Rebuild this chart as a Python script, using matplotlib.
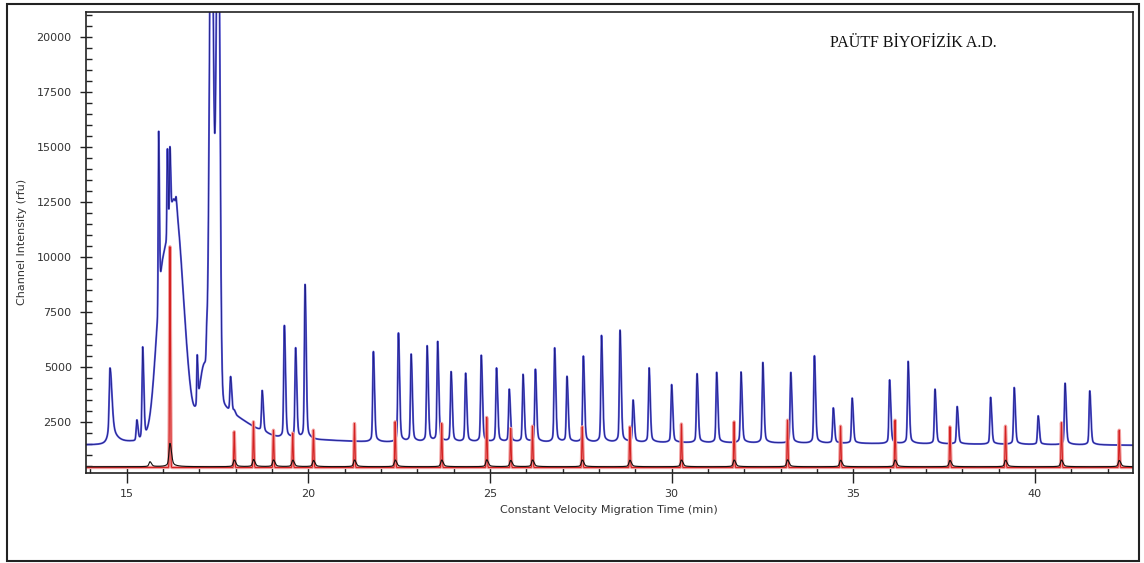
import numpy as np
import matplotlib
matplotlib.use("Agg")
import matplotlib.pyplot as plt
from matplotlib.ticker import MultipleLocator
from matplotlib.patches import Rectangle

# ---------------- data ----------------
# blue trace: slowly varying baseline (time, level)
blue_base_t = [13.88, 14.45, 15.10, 17.00, 20.50, 22.00, 30.00, 36.00, 42.70]
blue_base_y = [1450, 1450, 1550, 1600, 1650, 1560, 1540, 1500, 1430]

# blue broad components of the early hump (time, height above baseline, left/right width)
blue_broad_t = [15.92, 16.30, 17.15, 17.33, 17.52, 17.50]
blue_broad_h = [3800, 11000, 3500, 24500, 24500, 1400]
blue_broad_sl = [0.16, 0.25, 0.15, 0.050, 0.055, 0.10]
blue_broad_sr = [0.12, 0.26, 0.25, 0.055, 0.045, 0.80]

# blue sharp peaks: apex time and apex intensity (rfu)
blue_peak_t = [14.54, 15.28, 15.44, 15.88, 16.12, 16.19, 16.36, 16.94, 17.20, 17.86, 17.96,
               18.73, 19.34, 19.65, 19.91, 21.79, 22.48, 22.83, 23.27, 23.56, 23.93,
               24.33, 24.76, 25.18, 25.53, 25.91, 26.25, 26.78, 27.12, 27.57, 28.07,
               28.58, 28.94, 29.38, 30.00, 30.70, 31.24, 31.91, 32.51, 33.28, 33.93,
               34.45, 34.97, 36.00, 36.51, 37.25, 37.86, 38.78, 39.43, 40.09, 40.83,
               41.51]
blue_peak_y = [4940, 2500, 5850, 15650, 14880, 14970, 12700, 5530, 6900, 4545, 2950,
               3910, 6850, 5790, 8680, 5680, 6515, 5530, 5910, 6090, 4730,
               4670, 5490, 4910, 3940, 4620, 4850, 5830, 4520, 5455, 6395,
               6635, 3440, 4925, 4170, 4670, 4730, 4745, 5180, 4730, 5485,
               3110, 3560, 4395, 5230, 3970, 3180, 3600, 4045, 2760, 4245,
               3895]

# red trace (size standard): apex time and apex intensity
red_base = 420
red_peak_t = [16.19, 17.96, 18.49, 19.04, 19.57, 20.14, 21.27, 22.39, 23.67, 24.91,
              25.57, 26.17, 27.54, 28.85, 30.27, 31.72, 33.19, 34.65, 36.15, 37.66,
              39.19, 40.73, 42.32]
red_peak_y = [10450, 2045, 2500, 2120, 1985, 2120, 2425, 2500, 2425, 2700,
              2200, 2300, 2270, 2270, 2400, 2500, 2575, 2300, 2575, 2270,
              2300, 2455, 2120]

# black trace: apex time and apex intensity
black_base = 455
black_peak_t = [15.64] + red_peak_t
black_peak_y = [680, 1515, 760, 780, 760, 750, 740, 760, 760, 760, 770,
                740, 760, 760, 750, 760, 760, 770, 750, 760, 740,
                750, 760, 740]

x_ticks = [15, 20, 25, 30, 35, 40]
y_ticks = [2500, 5000, 7500, 10000, 12500, 15000, 17500, 20000]
title_text = "PAÜTF BİYOFİZİK A.D."
x_label = "Constant Velocity Migration Time (min)"
y_label = "Channel Intensity (rfu)"

# ---------------- rendering ----------------
t = np.linspace(13.88, 42.70, 14000)


def asym_gauss(x, t0, h, sl, sr):
    s = np.where(x < t0, sl, sr)
    return h * np.exp(-0.5 * ((x - t0) / s) ** 2)


def sharp(x, t0, h, sl, sr, lor):
    s = np.where(x < t0, sl, sr)
    d = (x - t0) / s
    return h * ((1 - lor) * np.exp(-0.5 * d ** 2) + lor / (1 + (d / 3.0) ** 2))


def blue_background(x):
    y = np.interp(x, blue_base_t, blue_base_y)
    for t0, h, sl, sr in zip(blue_broad_t, blue_broad_h, blue_broad_sl, blue_broad_sr):
        y = y + asym_gauss(x, t0, h, sl, sr)
    return y


blue = blue_background(t)
for t0, yp in zip(blue_peak_t, blue_peak_y):
    amp = max(yp - float(blue_background(np.array([t0]))[0]), 150.0)
    if 15.8 < t0 < 17.3:
        blue += sharp(t, t0, amp, 0.012, 0.02, 0.0)
    elif t0 < 14.6:
        blue += sharp(t, t0, amp, 0.02, 0.05, 0.3)
    else:
        blue += sharp(t, t0, amp, 0.018, 0.030, 0.1)

red = np.full_like(t, float(red_base))
for t0, yp in zip(red_peak_t, red_peak_y):
    red += sharp(t, t0, yp - red_base, 0.011, 0.013, 0.0)

black = np.full_like(t, float(black_base))
for t0, yp in zip(black_peak_t, black_peak_y):
    black += sharp(t, t0, yp - black_base, 0.025, 0.04, 0.2)

W, H = 1144, 563
fig = plt.figure(figsize=(W / 100, H / 100), dpi=100)
fig.patch.set_facecolor("white")
ax = fig.add_axes([86 / W, 1 - 473 / H, (1133 - 86) / W, (473 - 12) / H])

ax.plot(t, blue, color="#6060dc", lw=1.4, solid_joinstyle="round")
ax.plot(t, blue, color="#1f1f86", lw=0.6)
ax.plot(t, red, color="#f2a0a0", lw=2.4)
ax.plot(t, red, color="#d42222", lw=0.8)
ax.plot(t, black, color="#111111", lw=0.8)

ax.set_xlim(13.88, 42.70)
ax.set_ylim(170, 21120)
ax.set_xticks(x_ticks)
ax.set_yticks(y_ticks)
ax.xaxis.set_minor_locator(MultipleLocator(1))
ax.yaxis.set_minor_locator(MultipleLocator(500))
ax.xaxis.remove_overlapping_locs = False
ax.yaxis.remove_overlapping_locs = False
ax.tick_params(axis="x", which="major", direction="out", length=7.2, width=1.0,
               pad=4.5, labelsize=8, labelcolor="#333333", color="#222222")
ax.tick_params(axis="x", which="minor", direction="in", length=3.6, width=1.0,
               color="#222222")
ax.tick_params(axis="y", which="major", direction="out", length=4.3, width=1.0,
               pad=6, labelsize=8, labelcolor="#333333", color="#222222")
ax.tick_params(axis="y", which="minor", direction="in", length=4.3, width=1.0,
               color="#222222")
for sp in ax.spines.values():
    sp.set_linewidth(1.2)
    sp.set_color("#222222")

fig.text(609 / W, 1 - 510 / H, x_label, ha="center", va="center",
         fontsize=8, color="#333333")
fig.text(22.5 / W, 1 - 242 / H, y_label, ha="center", va="center",
         rotation=90, fontsize=8, color="#333333")
fig.text(913 / W, 1 - 43 / H, title_text, ha="center", va="center",
         fontsize=11.5, family=["Liberation Serif", "DejaVu Serif"], color="#111111")

fig.patches.append(Rectangle((7 / W, 1 - 561 / H), (1139 - 7) / W, (561 - 4) / H,
                             transform=fig.transFigure, fill=False,
                             edgecolor="#222222", lw=1.5))

fig.savefig("out.png", dpi=100, facecolor="white")
